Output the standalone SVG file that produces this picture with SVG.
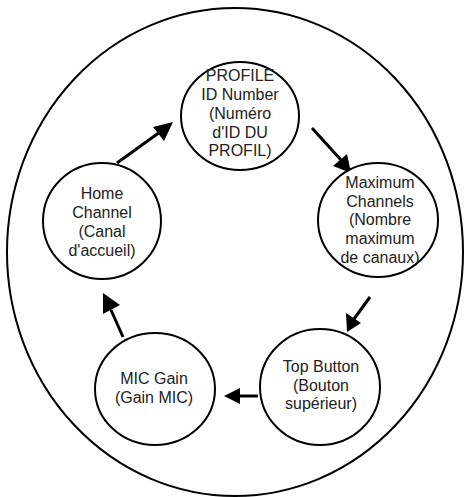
<svg xmlns="http://www.w3.org/2000/svg" width="464" height="497" viewBox="0 0 464 497">
<defs>
<style>
.n{fill:#fff;stroke:#000;stroke-width:2}
.t{font-family:"Liberation Sans",Arial,sans-serif;font-size:16px;fill:#222;text-anchor:middle}
.c{stroke:#000;stroke-width:3;fill:none}
.h{fill:#000}
</style>
</defs>
<rect width="464" height="497" fill="#fff"/>
<ellipse cx="235" cy="252" rx="228" ry="244" fill="none" stroke="#000" stroke-width="2"/>
<g id="connectors">
<path d="M117,163 L160,132" class="c"/>
<polygon class="h" points="173,122 153,127 164,141"/>
<path d="M312,128 L341,160" class="c"/>
<polygon class="h" points="351,173 333,166 347,154"/>
<path d="M370,297 L354,319" class="c"/>
<polygon class="h" points="347,332 346,313 361,323"/>
<path d="M258,396 L238,396" class="c"/>
<polygon class="h" points="224,396 240,388 240,404"/>
<path d="M123,337 L111,310" class="c"/>
<polygon class="h" points="103,293 103,314 120,305"/>
</g>
<g id="profile">
<ellipse class="n" cx="240" cy="116" rx="59" ry="54"/>
<text class="t"><tspan x="240" y="81">PROFILE</tspan><tspan x="240" y="100">ID Number</tspan><tspan x="240" y="119">(Numéro</tspan><tspan x="240" y="138">d'ID DU</tspan><tspan x="240" y="156">PROFIL)</tspan></text>
</g>
<g id="maxchannels">
<ellipse class="n" cx="378" cy="220" rx="60" ry="57"/>
<text class="t"><tspan x="380" y="188">Maximum</tspan><tspan x="380" y="207">Channels</tspan><tspan x="380" y="225">(Nombre</tspan><tspan x="380" y="244">maximum</tspan><tspan x="380" y="263">de canaux)</tspan></text>
</g>
<g id="topbutton">
<ellipse class="n" cx="320" cy="387" rx="60" ry="58"/>
<text class="t"><tspan x="321" y="372">Top Button</tspan><tspan x="321" y="391">(Bouton</tspan><tspan x="321" y="409">supérieur)</tspan></text>
</g>
<g id="micgain">
<ellipse class="n" cx="155" cy="389" rx="60" ry="56"/>
<text class="t"><tspan x="154" y="384">MIC Gain</tspan><tspan x="154" y="403">(Gain MIC)</tspan></text>
</g>
<g id="homechannel">
<ellipse class="n" cx="102" cy="221" rx="59" ry="58"/>
<text class="t"><tspan x="102" y="199">Home</tspan><tspan x="102" y="218">Channel</tspan><tspan x="102" y="237">(Canal</tspan><tspan x="102" y="256">d'accueil)</tspan></text>
</g>
</svg>
